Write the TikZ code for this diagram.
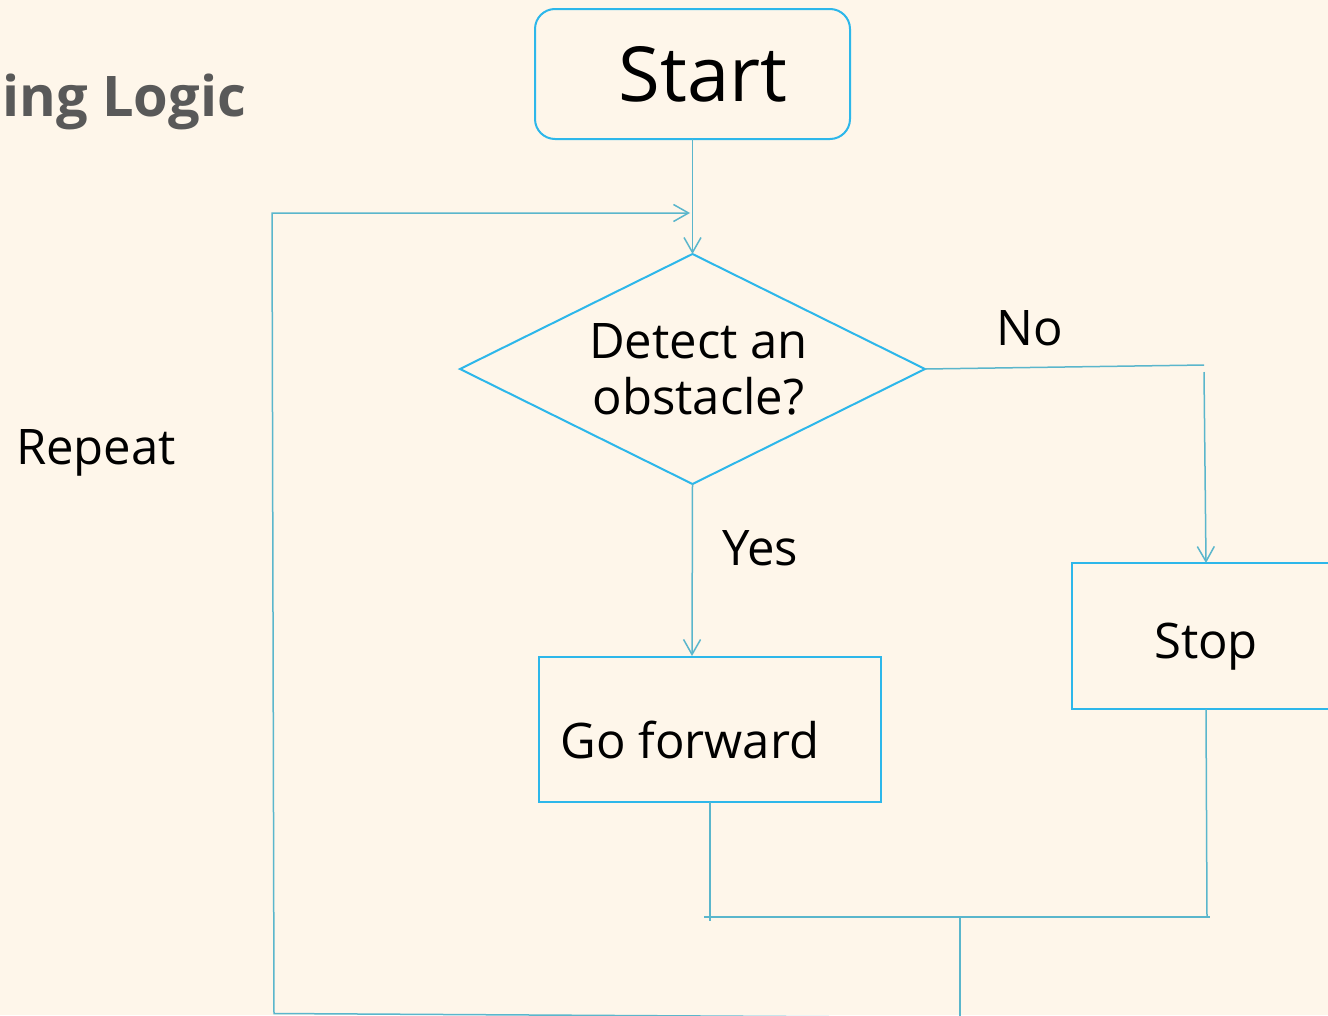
\documentclass[tikz,border=0pt]{standalone}
\usepackage{fontspec}
\setmainfont{Open Sans}
\usetikzlibrary{shapes.geometric,arrows.meta}
\definecolor{bg}{HTML}{FEF6EA}
\definecolor{shapeblue}{HTML}{2DB7EA}
\definecolor{linecol}{HTML}{5AB6CC}
\definecolor{titlegray}{HTML}{595959}
\begin{document}
\begin{tikzpicture}[x=1pt,y=-1pt,
  box/.style={draw=shapeblue, line width=2pt, fill=bg, rectangle, inner sep=0pt, outer sep=0pt},
  dia/.style={draw=shapeblue, line width=2pt, fill=bg, diamond, inner sep=0pt, outer sep=0pt, shape aspect=2},
  conn/.style={draw=linecol, line width=1.5pt},
  tip/.style={-{Straight Barb[length=15pt,width=17pt,line width=1.5pt]}},
  lbl/.style={font=\fontsize{49}{56}\selectfont, text=black, inner sep=0pt}
]
\fill[bg] (0,0) rectangle (1328,1015);
\useasboundingbox (0,0) rectangle (1328,1015);

% title
\node[anchor=west, inner sep=0pt, text=titlegray, font=\fontsize{56}{62}\bfseries\selectfont] (title) at (2,102) {ing Logic};

% nodes
\node[box, rounded corners=20pt, minimum width=315pt, minimum height=130pt, font=\fontsize{76}{90}\selectfont] (start) at (692.5,74) {\hspace*{21pt}Start};
\node[dia, minimum width=465pt, minimum height=230pt, align=center, font=\fontsize{49}{56}\selectfont] (dec) at (692.5,369) {\hspace*{12pt}Detect an\\\hspace*{12pt}obstacle?};
\node[box, minimum width=342pt, minimum height=145pt, text height=58pt, text depth=0pt, font=\fontsize{49}{56}\selectfont] (go) at (710,729.5) {\hspace*{-40pt}Go forward};
\node[box, minimum width=268pt, minimum height=146pt, text height=44pt, text depth=0pt, font=\fontsize{49}{56}\selectfont] (stop) at (1206,636) {Stop};

% labels
\node[lbl] (no) at (1030,328) {No};
\node[lbl] (yes) at (760,548) {Yes};
\node[lbl] (repeat) at (96,453) {Repeat};

% coordinates
\coordinate (nc) at (1204,365);
\coordinate (nc2) at (1204,372);
\coordinate (goin) at (692,656);
\coordinate (gob) at (710,921);
\coordinate (stopb) at (1207,917);
\coordinate (hl) at (704,917);
\coordinate (hr) at (1210,917);
\coordinate (j) at (960,917);
\coordinate (jb) at (960,1016);
\coordinate (bl) at (274,1013.5);
\coordinate (br) at (960,1017.5);
\coordinate (tl) at (272,213);
\coordinate (ta) at (690,213);

% connectors
\draw[conn,tip] (start.south) -- (dec.north);
\draw[conn] (dec.east) -- (nc);
\draw[conn,tip] (nc2) -- (stop.north);
\draw[conn,tip] (dec.south) -- (goin);
\draw[conn] (go.south) -- (gob);
\draw[conn] (stop.south) -- (stopb);
\draw[conn] (hl) -- (hr);
\draw[conn] (j) -- (jb);
\draw[conn,tip] (br) -- (bl) -- (tl) -- (ta);
\end{tikzpicture}
\end{document}
